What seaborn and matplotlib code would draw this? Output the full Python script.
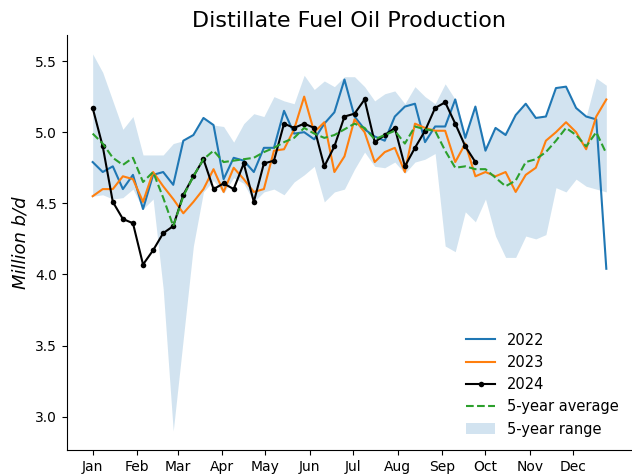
import numpy as np
import pandas as pd
import matplotlib
matplotlib.use("Agg")
import matplotlib.pyplot as plt
import seaborn as sns

# Weekly distillate fuel oil production, million barrels per day
week_day = [1 + 7 * i for i in range(52)]

prod_2022 = [4.79, 4.72, 4.76, 4.60, 4.70, 4.46, 4.70, 4.72, 4.63, 4.94,
             4.98, 5.10, 5.05, 4.67, 4.82, 4.80, 4.72, 4.89, 4.89, 5.15,
             4.99, 5.00, 4.95, 5.06, 5.14, 5.37, 5.11, 5.02, 4.97, 4.94,
             5.11, 5.18, 5.20, 4.93, 5.04, 5.04, 5.23, 4.96, 5.18, 4.87,
             5.03, 4.98, 5.12, 5.20, 5.10, 5.11, 5.31, 5.32, 5.17, 5.11,
             5.09, 4.04]

prod_2023 = [4.55, 4.60, 4.60, 4.69, 4.67, 4.51, 4.72, 4.62, 4.53, 4.43,
             4.51, 4.60, 4.74, 4.58, 4.75, 4.67, 4.58, 4.60, 4.87, 4.88,
             5.02, 5.25, 5.00, 5.07, 4.72, 4.83, 5.09, 5.00, 4.79, 4.86,
             4.89, 4.72, 5.06, 5.03, 5.01, 5.01, 4.79, 4.92, 4.69, 4.72,
             4.69, 4.72, 4.58, 4.70, 4.75, 4.94, 5.00, 5.07, 5.00, 4.88,
             5.11, 5.23]

prod_2024 = [5.17, 4.90, 4.51, 4.39, 4.36, 4.07, 4.17, 4.29, 4.34, 4.56,
             4.69, 4.81, 4.60, 4.64, 4.60, 4.78, 4.51, 4.78, 4.80, 5.06,
             5.03, 5.06, 5.03, 4.76, 4.90, 5.11, 5.13, 5.23, 4.93, 4.98,
             5.03, 4.76, 4.89, 5.01, 5.17, 5.21, 5.06, 4.90, 4.79]

avg_5yr = [4.99, 4.92, 4.82, 4.77, 4.82, 4.65, 4.72, 4.54, 4.34, 4.55,
           4.69, 4.81, 4.87, 4.79, 4.80, 4.81, 4.82, 4.86, 4.89, 4.93,
           4.96, 5.03, 4.99, 4.96, 4.98, 5.02, 5.06, 5.03, 4.95, 4.98,
           5.01, 4.92, 5.04, 5.02, 5.01, 4.87, 4.75, 4.76, 4.74, 4.74,
           4.68, 4.62, 4.66, 4.79, 4.81, 4.86, 4.94, 5.03, 4.98, 4.90,
           5.00, 4.85]

range_low = [4.55, 4.56, 4.53, 4.54, 4.60, 4.46, 4.53, 3.90, 2.90, 3.55,
             4.20, 4.58, 4.66, 4.57, 4.68, 4.64, 4.51, 4.58, 4.60, 4.56,
             4.65, 4.70, 4.76, 4.51, 4.58, 4.60, 4.74, 4.86, 4.76, 4.75,
             4.79, 4.71, 4.79, 4.81, 4.85, 4.20, 4.16, 4.44, 4.37, 4.53,
             4.27, 4.12, 4.12, 4.27, 4.25, 4.28, 4.61, 4.58, 4.67, 4.62,
             4.60, 4.58]

range_high = [5.55, 5.42, 5.22, 5.02, 5.11, 4.84, 4.84, 4.84, 4.92, 4.94,
              4.98, 5.10, 5.05, 5.04, 4.93, 5.06, 5.13, 5.11, 5.25, 5.22,
              5.20, 5.40, 5.30, 5.36, 5.32, 5.39, 5.39, 5.32, 5.22, 5.27,
              5.29, 5.20, 5.32, 5.25, 5.20, 5.34, 5.23, 4.99, 5.18, 4.90,
              5.03, 5.00, 5.12, 5.20, 5.10, 5.11, 5.31, 5.32, 5.17, 5.11,
              5.38, 5.33]

month_start = [1, 32, 60, 91, 121, 152, 182, 213, 244, 274, 305, 335]
month_names = ["Jan", "Feb", "Mar", "Apr", "May", "Jun",
               "Jul", "Aug", "Sep", "Oct", "Nov", "Dec"]

df = pd.DataFrame({
    "day": week_day,
    "2022": prod_2022,
    "2023": prod_2023,
    "avg": avg_5yr,
    "low": range_low,
    "high": range_high,
})
df24 = pd.DataFrame({"day": week_day[:len(prod_2024)], "val": prod_2024})

fig, ax = plt.subplots(figsize=(6.32, 4.74), dpi=100)
fig.subplots_adjust(left=0.106, right=1.0, bottom=0.051, top=0.926)

sns.lineplot(data=df, x="day", y="2022", ax=ax, color="#1f77b4",
             linewidth=1.5, label="2022")
sns.lineplot(data=df, x="day", y="2023", ax=ax, color="#ff7f0e",
             linewidth=1.5, label="2023")
sns.lineplot(data=df24, x="day", y="val", ax=ax, color="black",
             linewidth=1.5, marker="o", markersize=4, markeredgewidth=0,
             label="2024")
sns.lineplot(data=df, x="day", y="avg", ax=ax, color="#2ca02c",
             linewidth=1.5, linestyle="--", label="5-year average")
ax.fill_between(df["day"], df["low"], df["high"], color="#1f77b4",
                alpha=0.2, linewidth=0, label="5-year range")

ax.set_xticks(month_start)
ax.set_xticklabels(month_names)
ax.set_yticks([3.0, 3.5, 4.0, 4.5, 5.0, 5.5])
ax.tick_params(labelsize=10)
ax.set_xlabel("")
ax.set_ylabel("Million b/d", fontsize=13, fontstyle="italic")
ax.set_title("Distillate Fuel Oil Production", fontsize=16)
sns.despine(ax=ax)

ax.legend(loc="lower right", frameon=False, fontsize=10.5)

fig.savefig("out.png", dpi=100)
